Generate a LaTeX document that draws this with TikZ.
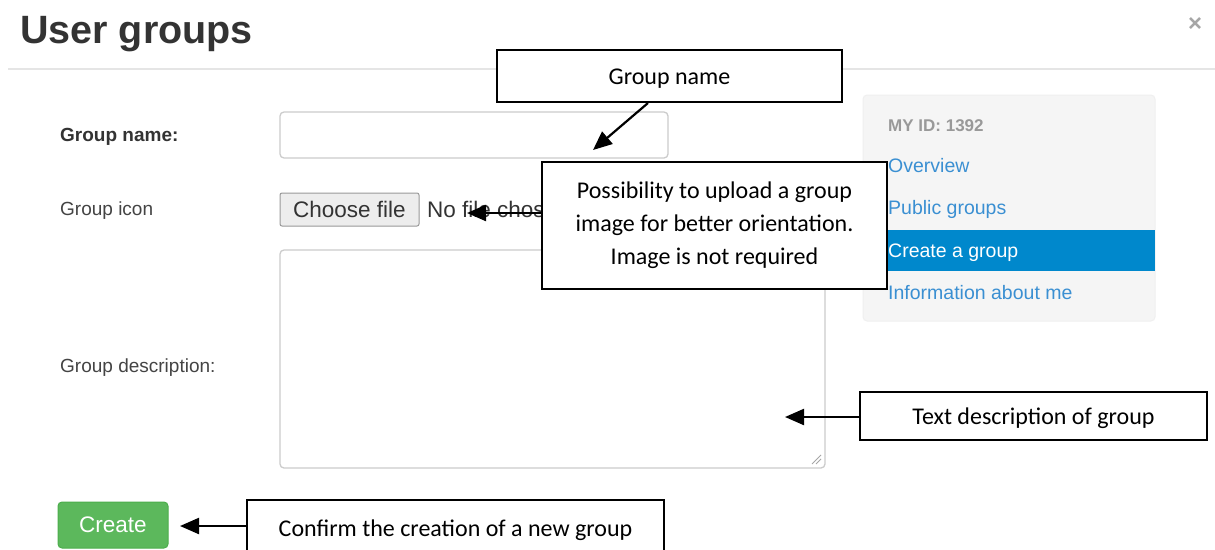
\documentclass[tikz,border=0pt]{standalone}
\usepackage{fontspec}
\setmainfont{Liberation Sans}
\newfontfamily\callfont{Carlito}
\usetikzlibrary{arrows.meta}
\definecolor{titlegray}{HTML}{333333}
\definecolor{rulegray}{HTML}{E5E5E5}
\definecolor{fieldborder}{HTML}{CCCCCC}
\definecolor{linkblue}{HTML}{3A8FD2}
\definecolor{activeblue}{HTML}{0088CC}
\definecolor{sidebg}{HTML}{F5F5F5}
\definecolor{greenbtn}{HTML}{5CB85C}
\definecolor{greenborder}{HTML}{4CAE4C}
\definecolor{labelgray}{HTML}{444444}
\tikzset{
  txt/.style={anchor=base west, inner sep=0pt},
  formlabel/.style={txt, text=labelgray, font=\fontsize{19}{22}\selectfont},
  sidelink/.style={txt, text=linkblue, font=\fontsize{19.5}{22}\selectfont},
  field/.style={draw=fieldborder, line width=1.3pt, rounded corners=4pt, fill=white},
  callout/.style={draw=black, line width=2pt, fill=white, inner sep=0pt,
    font=\callfont\fontsize{24}{33}\selectfont, align=center},
  oneline/.style={text height=18pt, text depth=1pt},
  pointer/.style={draw=black, line width=2.2pt, -{Triangle[length=19pt,width=16pt]}}
}
\begin{document}
\begin{tikzpicture}[x=1pt,y=-1pt]
\useasboundingbox (0,0) rectangle (1215,549);
\clip (0,0) rectangle (1215,549);
\fill[white] (0,0) rectangle (1215,549);

% header
\node[txt, text=titlegray, font=\fontsize{39.5}{42}\selectfont\bfseries] (title) at (20,43) {User groups};
\node[inner sep=0pt, text=black!35, font=\fontsize{24}{24}\selectfont\bfseries] (close) at (1195,25) {×};
\draw[rulegray, line width=1.5pt] (8,69) -- (1215,69);

% form labels
\node[formlabel, text=titlegray, font=\fontsize{19}{22}\selectfont\bfseries] (lname) at (60,141) {Group name:};
\node[formlabel] (licon) at (60,215) {Group icon};
\node[formlabel] (ldesc) at (60,372) {Group description:};

% form fields
\path[field] (280,112) rectangle (668,158);
\coordinate (nameIn) at (593,150);
\node[draw=black!40, fill=black!7, rounded corners=2pt, line width=1pt,
      minimum width=139pt, minimum height=33pt, inner sep=0pt,
      font=\fontsize{22.5}{24}\selectfont, text=titlegray] (choose) at (349.5,209.5) {Choose file};
\node[txt, text=titlegray, font=\fontsize{22.5}{24}\selectfont] (nofile) at (427,217) {No file chosen};
\coordinate (fileIn) at (467,213);
\path[field] (280,250) rectangle (825,468);
\draw[black!35, line width=0.8pt] (812,464) -- (821,455) (816,464) -- (821,459);
\coordinate (descIn) at (785,417);

% create button
\node[fill=greenbtn, draw=greenborder, rounded corners=4pt, line width=1pt,
      minimum width=110pt, minimum height=46pt, inner sep=0pt,
      text=white, font=\fontsize{22.5}{24}\selectfont] (create) at (113,525) {Create};

% sidebar
\path[fill=sidebg, draw=black!6, rounded corners=4pt, line width=1pt] (863,95) rectangle (1155,321);
\fill[activeblue] (863,230) rectangle (1155,271);
\node[txt, text=black!40, font=\fontsize{17}{18}\selectfont\bfseries] (myid) at (888,131) {MY ID: 1392};
\node[sidelink] (ov) at (888,172) {Overview};
\node[sidelink] (pub) at (888,214) {Public groups};
\node[sidelink, text=white] (cg) at (888,257) {Create a group};
\node[sidelink] (info) at (888,299) {Information about me};

% callouts
\node[callout, oneline, minimum width=345pt, minimum height=52pt] (c1) at (669.5,76) {Group name};
\node[callout, minimum width=345pt, minimum height=127pt] (c2) at (714.5,225.5)
  {Possibility to upload a group\\image for better orientation.\\Image is not required};
\node[callout, oneline, minimum width=347pt, minimum height=48pt] (c3) at (1033.5,416) {Text description of group};
\node[callout, oneline, minimum width=417pt, minimum height=56pt] (c4) at (455.5,528) {Confirm the creation of a new group};
\coordinate (createIn) at (180,526);

% pointers
\draw[pointer] (c1.south -| 648,0) -- (nameIn);
\draw[pointer] (c2.west |- fileIn) -- (fileIn);
\draw[pointer] (c3.west |- descIn) -- (descIn);
\draw[pointer] (c4.west |- createIn) -- (createIn);
\end{tikzpicture}
\end{document}
